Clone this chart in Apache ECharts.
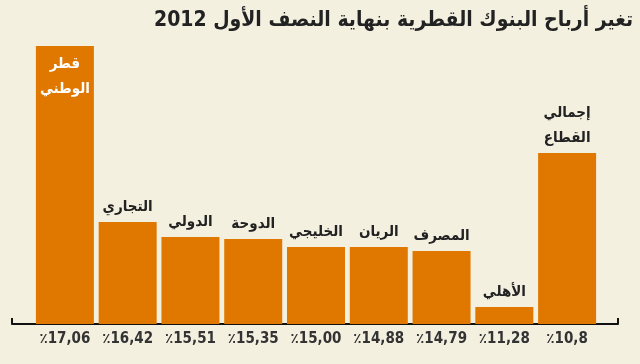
<!DOCTYPE html>
<html><head><meta charset="utf-8">
<script src="https://cdn.jsdelivr.net/npm/echarts@6/dist/echarts.min.js"></script>
<style>html,body{margin:0;padding:0;background:#f3f0e0;}#c{width:640px;height:364px;}</style>
</head><body><div id="c"></div>
<script>
var banks = ['قطر\nالوطني','التجاري','الدولي','الدوحة','الخليجي','الريان','المصرف','الأهلي','إجمالي\nالقطاع'];
var changeLabels = ['٪17,06','٪16,42','٪15,51','٪15,35','٪15,00','٪14,88','٪14,79','٪11,28','٪10,8'];
var barHeights = [278, 102, 87, 85, 77, 77, 73, 17, 171];
var titleText = 'تغير أرباح البنوك القطرية بنهاية النصف الأول 2012';

var font = '"DejaVu Sans Condensed", "DejaVu Sans", sans-serif';
var chart = echarts.init(document.getElementById('c'));
var data = barHeights.map(function(v, i){
  var item = {value: v};
  if (i === 0) item.label = {position: 'insideTop', color: '#ffffff', distance: 6};
  return item;
});
chart.setOption({
  backgroundColor: '#f3f0e0',
  animation: false,
  title: {text: titleText, right: 2, top: 5, textStyle: {fontFamily: font, fontWeight: 'bold', fontSize: 21, color: '#222'}},
  grid: [
    {left: 33.5, right: 41.5, top: 24, bottom: 40},
    {left: 12, right: 22, top: 24, bottom: 40}
  ],
  xAxis: [
    {type: 'category', gridIndex: 0, data: changeLabels,
     axisLine: {show: false}, axisTick: {show: false},
     axisLabel: {interval: 0, fontFamily: font, fontWeight: 'bold', fontSize: 15, color: '#333', margin: 8}},
    {type: 'value', gridIndex: 1, min: 0, max: 1, interval: 1,
     axisLine: {show: true, lineStyle: {color: '#111', width: 2}},
     axisTick: {show: true, inside: true, length: 6, lineStyle: {color: '#111', width: 2}},
     axisLabel: {show: false}, splitLine: {show: false}}
  ],
  yAxis: [
    {type: 'value', gridIndex: 0, min: 0, max: 300, show: false},
    {type: 'value', gridIndex: 1, min: 0, max: 300, show: false}
  ],
  series: [{
    type: 'bar', xAxisIndex: 0, yAxisIndex: 0, barWidth: 58,
    itemStyle: {color: '#e07800'},
    label: {show: true, position: 'top', distance: 2,
      formatter: function(p){ return banks[p.dataIndex]; },
      fontFamily: font, fontWeight: 'bold', fontSize: 15, color: '#222', lineHeight: 25},
    data: data
  }]
});
</script></body></html>
